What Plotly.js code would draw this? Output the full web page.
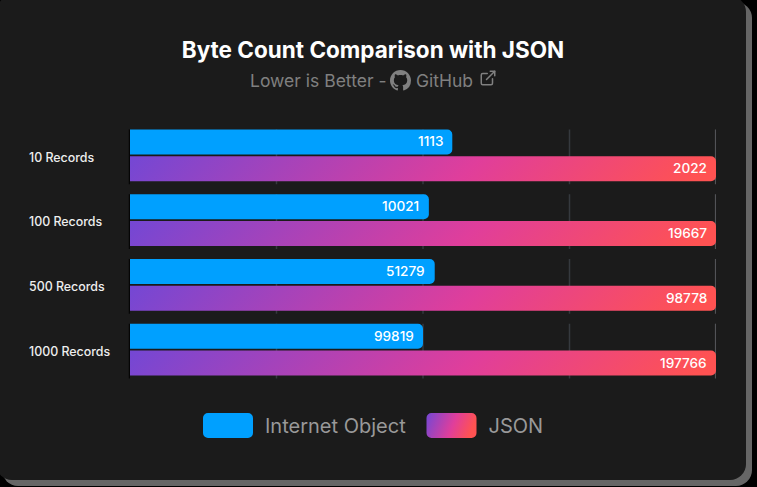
<!DOCTYPE html>
<html><head><meta charset="utf-8">
<script src="https://cdn.plot.ly/plotly-3.0.1.min.js"></script>
<style>
html,body{margin:0;padding:0;background:#000;width:757px;height:487px;overflow:hidden}
#card{position:absolute;left:-4px;top:-4px;width:750px;height:484px;background:#1b1b1b;border-radius:16px;box-shadow:6px 6px 0 #666}
#chart{position:absolute;left:0;top:0;width:757px;height:487px}
.ic{position:absolute;fill:#808080}
</style></head><body>
<div id="card"></div>
<div id="chart"></div>
<svg class="ic" style="left:390px;top:70px" width="21" height="21" viewBox="0 0 16 16"><path d="M8 0C3.58 0 0 3.58 0 8c0 3.54 2.29 6.53 5.47 7.59.4.07.55-.17.55-.38 0-.19-.01-.82-.01-1.49-2.01.37-2.53-.49-2.69-.94-.09-.23-.48-.94-.82-1.13-.28-.15-.68-.52-.01-.53.63-.01 1.08.58 1.23.82.72 1.21 1.87.87 2.33.66.07-.52.28-.87.51-1.07-1.78-.2-3.64-.89-3.64-3.95 0-.87.31-1.59.82-2.15-.08-.2-.36-1.02.08-2.12 0 0 .67-.21 2.2.82.64-.18 1.32-.27 2-.27s1.36.09 2 .27c1.53-1.04 2.2-.82 2.2-.82.44 1.1.16 1.92.08 2.12.51.56.82 1.27.82 2.15 0 3.07-1.87 3.75-3.65 3.95.29.25.54.73.54 1.48 0 1.07-.01 1.93-.01 2.2 0 .21.15.46.55.38A8.01 8.01 0 0 0 16 8c0-4.42-3.58-8-8-8z"/></svg>
<svg class="ic" style="left:479px;top:69px;fill:none;stroke:#808080;stroke-width:2;stroke-linecap:round;stroke-linejoin:round" width="18" height="18" viewBox="0 0 24 24"><path d="M18 13v6a2 2 0 0 1-2 2H5a2 2 0 0 1-2-2V8a2 2 0 0 1 2-2h6"/><path d="M15 3h6v6"/><path d="M10 14L21 3"/></svg>
<script>
var categories = ["10 Records","100 Records","500 Records","1000 Records"];
var internetObject = [1113,10021,51279,99819];
var json = [2022,19667,98778,197766];
var internetObjectPct = [55,51,52,50];
var jsonPct = [100,100,100,100];
var gridTicks = [25,50,75,100];
var FONT = "Inter, sans-serif";

var shapes = [];
function seg(xref,x,color,w){
  categories.forEach(function(c,i){
    shapes.push({type:'line',layer:'below',xref:xref,yref:'y',x0:x,x1:x,y0:i-0.4,y1:i+0.446,line:{color:color,width:w}});
  });
}
gridTicks.forEach(function(t){
  if(t===100){seg('x',99.9,'#585a5e',1);} else {seg('x',t,'#35393e',1.5);}
});
seg('paper',-0.0012,'#000000',1);

var subY = 1+(122.5-79.5)/260;
var annotations = [
 {text:"Lower is Better -",xref:'paper',yref:'paper',x:(388-130)/586,y:subY,xanchor:'right',yanchor:'middle',showarrow:false,font:{family:FONT,size:17.5,color:'#808080'}},
 {text:"GitHub",xref:'paper',yref:'paper',x:(414-130)/586,y:subY,xanchor:'left',yanchor:'middle',showarrow:false,font:{family:FONT,size:17.5,color:'#808080'}}
];
categories.forEach(function(c,i){
  annotations.push({text:String(internetObject[i]),xref:'x',yref:'y',x:internetObjectPct[i],y:i-0.2,xanchor:'right',yanchor:'middle',xshift:-7.5,yshift:1,showarrow:false,font:{family:FONT,size:13.6,weight:500,color:'#ffffff'}});
  annotations.push({text:String(json[i]),xref:'x',yref:'y',x:100,y:i+0.215,xanchor:'right',yanchor:'middle',xshift:-7.5,yshift:1,showarrow:false,font:{family:FONT,size:13.6,weight:500,color:'#ffffff'}});
});

var traces = [
 {type:'bar',orientation:'h',name:'Internet Object',y:categories,x:internetObjectPct,marker:{color:'#00a0ff'},hoverinfo:'skip'},
 {type:'bar',orientation:'h',name:'JSON',y:categories,x:jsonPct,marker:{color:'#e03e9b'},hoverinfo:'skip'}
];
var layout = {
 width:757,height:487,paper_bgcolor:'rgba(0,0,0,0)',plot_bgcolor:'rgba(0,0,0,0)',
 margin:{l:130,r:41,t:122.5,b:104.5},
 font:{family:FONT},
 title:{text:"<b>Byte Count Comparison with JSON</b>",x:373/757,xanchor:'center',y:1-50/487,yanchor:'middle',font:{family:FONT,size:22.5,color:'#ffffff'}},
 barmode:'group',bargap:0.169,bargroupgap:0.074,barcornerradius:5,
 xaxis:{range:[0,100],showgrid:false,zeroline:false,showticklabels:false,ticks:'',fixedrange:true,showline:false},
 yaxis:{type:'category',categoryorder:'array',categoryarray:categories,autorange:'reversed',showgrid:false,zeroline:false,showline:false,ticks:'',fixedrange:true,tickfont:{family:FONT,size:12.4,weight:500,color:'#eeeeee'}},
 shapes:shapes,annotations:annotations,
 showlegend:true,
 legend:{orientation:'h',x:198/757,xref:'container',y:1-(425.5)/487,yref:'container',yanchor:'middle',xanchor:'left',itemwidth:57,entrywidth:151.5,entrywidthmode:'pixels',font:{family:FONT,size:20,color:'#999999'},bgcolor:'rgba(0,0,0,0)',itemclick:false,itemdoubleclick:false}
};
Plotly.newPlot('chart',traces,layout,{displayModeBar:false}).then(function(gd){
  var svg = gd.querySelector('svg.main-svg');
  var NS='http://www.w3.org/2000/svg';
  var defs = document.createElementNS(NS,'defs');
  function grad(id,x2,y2){
    var g=document.createElementNS(NS,'linearGradient');
    g.setAttribute('id',id);g.setAttribute('x1','0');g.setAttribute('y1','0');g.setAttribute('x2',x2);g.setAttribute('y2',y2);
    [['0','#7447d4'],['0.6','#e03e9b'],['1','#ff5252']].forEach(function(s){
      var st=document.createElementNS(NS,'stop');st.setAttribute('offset',s[0]);st.setAttribute('stop-color',s[1]);g.appendChild(st);
    });
    defs.appendChild(g);
  }
  grad('jsonGrad','1','0.04');
  grad('legGrad','1','0.2');
  svg.insertBefore(defs,svg.firstChild);
  var rows = gd.querySelectorAll('.barlayer .trace.bars');
  rows[1].querySelectorAll('path').forEach(function(p){p.style.fill='url(#jsonGrad)';});
  gd.querySelectorAll('.ytick text').forEach(function(t){
    t.setAttribute('text-anchor','start');t.setAttribute('x','29');
    t.setAttribute('y',String(parseFloat(t.getAttribute('y'))+2));
  });
  gd.querySelectorAll('.legend .traces').forEach(function(tr,i){
    var p = tr.querySelector('.legendbar path, .legendpoints path');
    if(p){
      p.setAttribute('d','M-23.5,-12.5 H16.5 A5,5 0 0 1 21.5,-7.5 V7.5 A5,5 0 0 1 16.5,12.5 H-23.5 A5,5 0 0 1 -28.5,7.5 V-7.5 A5,5 0 0 1 -23.5,-12.5 Z');
      p.style.strokeWidth='0';
      if(i===1){p.style.fill='url(#legGrad)';}
    }
  });
});
</script>
</body></html>
